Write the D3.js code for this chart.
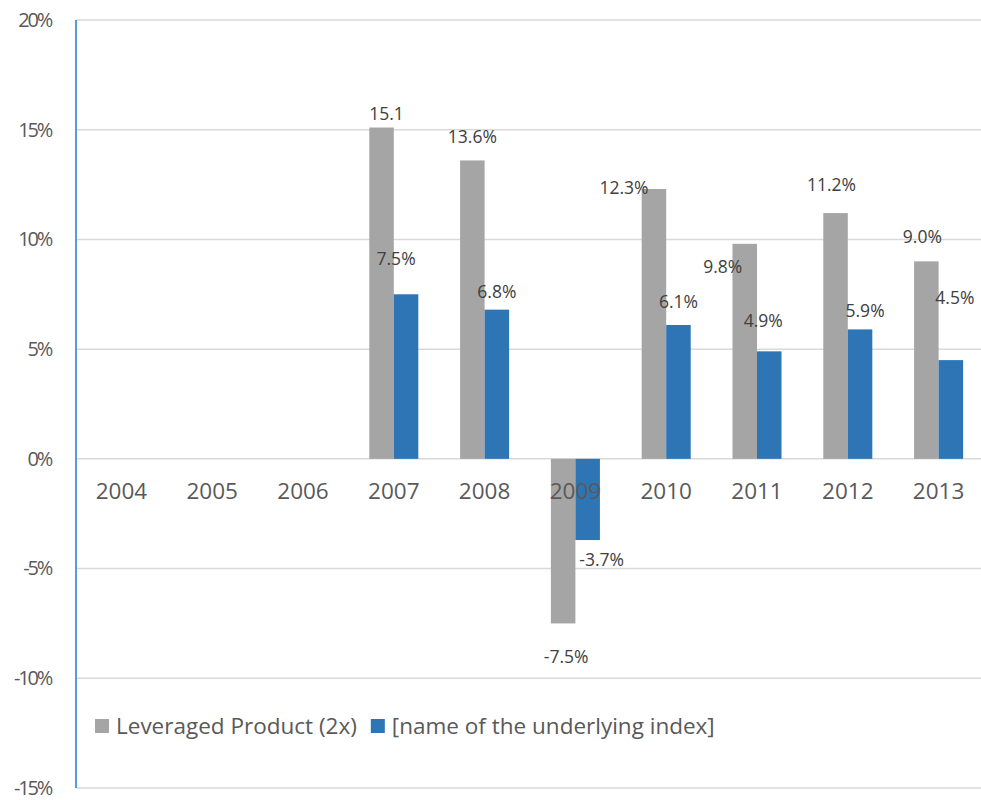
<!DOCTYPE html>
<head>
  <meta charset="utf-8">
  <style>
    body { margin: 0; background: #fff; }
    .axis text { fill: #595959; font-family: 'Open Sans', sans-serif; }
    .lbl { fill: #404040; font-family: 'Open Sans', sans-serif; font-size: 17.5px; }
  </style>
</head>
<body>
  <script src="https://cdn.jsdelivr.net/npm/d3@7"></script>
  <script>
    // chart data
    const years = ["2004", "2005", "2006", "2007", "2008", "2009", "2010", "2011", "2012", "2013"];
    const leveraged = [null, null, null, 15.1, 13.6, -7.5, 12.3, 9.8, 11.2, 9.0];
    const underlying = [null, null, null, 7.5, 6.8, -3.7, 6.1, 4.9, 5.9, 4.5];
    const leveragedLabels = ["", "", "", "15.1", "13.6%", "-7.5%", "12.3%", "9.8%", "11.2%", "9.0%"];
    const underlyingLabels = ["", "", "", "7.5%", "6.8%", "-3.7%", "6.1%", "4.9%", "5.9%", "4.5%"];
    const yTicks = [20, 15, 10, 5, 0, -5, -10, -15];
    const seriesNames = ["Leveraged Product (2x)", "[name of the underlying index]"];
    const seriesColors = ["#a5a5a5", "#2e75b6"];

    // hand placed label offsets (label centre vs bar end), as in the original sheet
    const levNudge = [null, null, null, [5, -14], [0, -24], [3, 33], [-30, -1], [-22, 23], [-4, -28], [-4, -24]];
    const undNudge = [null, null, null, [-10, -35], [0, -18], [14, 20], [0, -23], [-6, -30], [5, -19], [4, -62]];

    const width = 981, height = 800;
    const margin = {top: 20, right: -3, bottom: 12, left: 76};

    const svg = d3.select("body").append("svg")
      .attr("width", width)
      .attr("height", height);

    const x = d3.scaleBand().domain(years).range([margin.left, width - margin.right]);
    const y = d3.scaleLinear().domain([-15, 20]).range([height - margin.bottom, margin.top]);
    const barW = x.bandwidth() * 0.27;

    // gridlines
    svg.append("g").selectAll("line").data(yTicks).enter().append("line")
      .attr("x1", margin.left).attr("x2", width)
      .attr("y1", d => y(d)).attr("y2", d => y(d))
      .attr("stroke", "#d9d9d9").attr("stroke-width", 1.5);

    // y axis labels
    const yAxis = d3.axisLeft(y).tickValues(yTicks).tickSize(0).tickPadding(25)
      .tickFormat(d => d + "%");
    const ya = svg.append("g").attr("class", "axis")
      .attr("transform", "translate(" + margin.left + ",0)")
      .call(yAxis);
    ya.select(".domain").remove();
    ya.selectAll("text").style("font-size", "20px").style("letter-spacing", "-2.2px");

    // bars
    const bars = svg.append("g");
    years.forEach((yr, i) => {
      const cx = x(yr) + x.bandwidth() / 2;
      [leveraged[i], underlying[i]].forEach((v, s) => {
        if (v === null) return;
        bars.append("rect")
          .attr("x", s === 0 ? cx - barW : cx)
          .attr("width", barW)
          .attr("y", Math.min(y(v), y(0)))
          .attr("height", Math.abs(y(v) - y(0)))
          .attr("fill", seriesColors[s]);
      });
    });

    // x axis labels at zero line
    const xAxis = d3.axisBottom(x).tickSize(0).tickPadding(24);
    const xa = svg.append("g").attr("class", "axis")
      .attr("transform", "translate(0," + y(0) + ")")
      .call(xAxis);
    xa.select(".domain").remove();
    xa.selectAll("text").style("font-size", "22.5px");

    // y axis line
    svg.append("line")
      .attr("x1", margin.left).attr("x2", margin.left)
      .attr("y1", y(20)).attr("y2", y(-15))
      .attr("stroke", "#5b9bd5").attr("stroke-width", 2);

    // data labels
    const labels = svg.append("g");
    years.forEach((yr, i) => {
      const cx = x(yr) + x.bandwidth() / 2;
      if (leveraged[i] !== null) {
        labels.append("text").attr("class", "lbl")
          .attr("x", cx - barW / 2 + levNudge[i][0])
          .attr("y", y(leveraged[i]) + levNudge[i][1])
          .attr("dy", "0.35em").attr("text-anchor", "middle")
          .text(leveragedLabels[i]);
      }
      if (underlying[i] !== null) {
        labels.append("text").attr("class", "lbl")
          .attr("x", cx + barW / 2 + undNudge[i][0])
          .attr("y", y(underlying[i]) + undNudge[i][1])
          .attr("dy", "0.35em").attr("text-anchor", "middle")
          .text(underlyingLabels[i]);
      }
    });

    // legend
    const legend = svg.append("g").attr("transform", "translate(95,726)");
    let lx = 0;
    seriesNames.forEach((name, s) => {
      const g = legend.append("g").attr("transform", "translate(" + lx + ",0)");
      g.append("rect").attr("x", 0).attr("y", -7).attr("width", 14).attr("height", 14)
        .attr("fill", seriesColors[s]);
      const t = g.append("text").attr("x", 21).attr("dy", "0.35em")
        .attr("fill", "#595959")
        .style("font-family", "'Open Sans', sans-serif").style("font-size", "22.5px")
        .text(name);
      lx += 21 + t.node().getComputedTextLength() + 14;
    });
  </script>
</body>
